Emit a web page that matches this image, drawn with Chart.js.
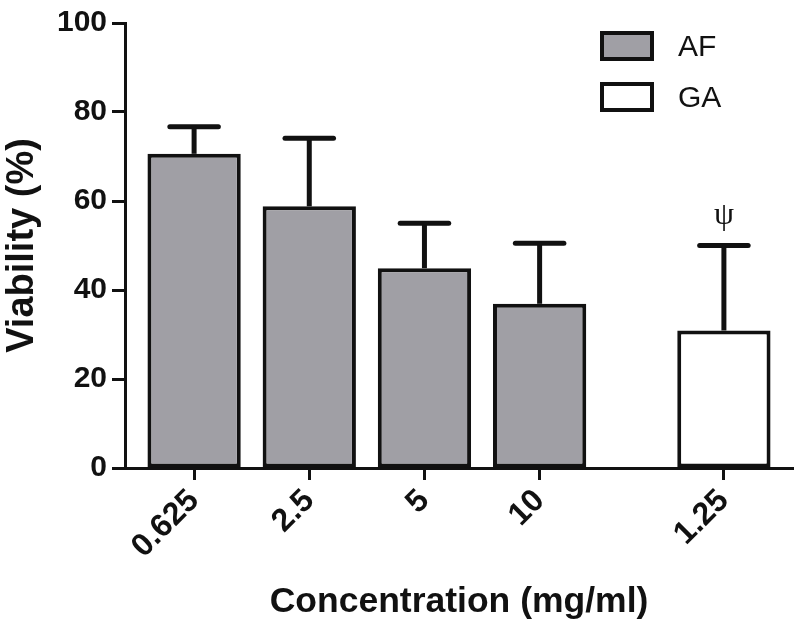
<!DOCTYPE html>
<html>
<head>
<meta charset="utf-8">
<script src="https://cdn.jsdelivr.net/npm/chart.js@4/dist/chart.umd.min.js"></script>
<style>
  html, body { margin: 0; padding: 0; background: #ffffff; }
  #wrap { width: 800px; height: 631px; position: relative; }
</style>
</head>
<body>
<div id="wrap"><canvas id="c" width="800" height="631"></canvas></div>
<script>
// ---- data ----
const afLabels = ['0.625', '2.5', '5', '10'];
const afValues = [70.6, 58.8, 44.9, 36.9];
const afErrors = [6.1, 15.3, 10.1, 13.6];

const gaLabels = ['1.25'];
const gaValues = [30.9];
const gaErrors = [19.1];
const gaMarks = ['ψ'];

const yTicks = [0, 20, 40, 60, 80, 100];

// ---- layout helpers (positions of category slots, gap before GA group) ----
const groupGap = 0.6;
const afX = afLabels.map((_, i) => i);
const gaX = gaLabels.map((_, i) => afLabels.length + groupGap + i);
const allX = afX.concat(gaX);
const allLabels = afLabels.concat(gaLabels);

const FONT = "'Liberation Sans', Arial, Helvetica, sans-serif";

const errorBarPlugin = {
  id: 'errorBars',
  afterDatasetsDraw(chart) {
    const ctx = chart.ctx;
    const yScale = chart.scales.y;
    chart.data.datasets.forEach((ds, di) => {
      const meta = chart.getDatasetMeta(di);
      meta.data.forEach((el, i) => {
        const err = ds.errors[i];
        const v = ds.data[i].y;
        const yTop = yScale.getPixelForValue(v + err);
        const capHalf = el.width * 0.26;
        ctx.save();
        ctx.strokeStyle = '#111111';
        ctx.lineWidth = 5;
        ctx.lineCap = 'butt';
        ctx.beginPath();
        ctx.moveTo(el.x, el.y);
        ctx.lineTo(el.x, yTop);
        ctx.stroke();
        ctx.lineCap = 'round';
        ctx.beginPath();
        ctx.moveTo(el.x - capHalf, yTop);
        ctx.lineTo(el.x + capHalf, yTop);
        ctx.stroke();
        if (ds.marks && ds.marks[i]) {
          ctx.fillStyle = '#111111';
          ctx.font = "32px 'Liberation Serif', 'DejaVu Serif', serif";
          ctx.textAlign = 'center';
          ctx.textBaseline = 'alphabetic';
          ctx.fillText(ds.marks[i], el.x, yTop - 22);
        }
        ctx.restore();
      });
    });
  }
};

const legendPlugin = {
  id: 'boxLegend',
  afterDraw(chart) {
    const ctx = chart.ctx;
    const area = chart.chartArea;
    const boxW = 50, boxH = 26, rowH = 51;
    const left = area.right - 191;
    const top = area.top + 10;
    chart.data.datasets.forEach((ds, i) => {
      const y = top + i * rowH;
      ctx.save();
      ctx.fillStyle = ds.backgroundColor;
      ctx.fillRect(left, y, boxW, boxH);
      ctx.strokeStyle = '#111111';
      ctx.lineWidth = 4;
      ctx.strokeRect(left, y, boxW, boxH);
      ctx.fillStyle = '#111111';
      ctx.font = '30px ' + FONT;
      ctx.textAlign = 'left';
      ctx.textBaseline = 'middle';
      ctx.fillText(ds.label, left + 76, y + boxH / 2 + 2);
      ctx.restore();
    });
  }
};

new Chart(document.getElementById('c'), {
  type: 'bar',
  data: {
    datasets: [
      {
        label: 'AF',
        data: afValues.map((v, i) => ({ x: afX[i], y: v })),
        errors: afErrors,
        backgroundColor: '#a09fa5',
        borderColor: '#111111',
        borderWidth: 4,
        borderSkipped: false,
        grouped: false,
        categoryPercentage: 1,
        barPercentage: 0.81
      },
      {
        label: 'GA',
        data: gaValues.map((v, i) => ({ x: gaX[i], y: v })),
        errors: gaErrors,
        marks: gaMarks,
        backgroundColor: '#ffffff',
        borderColor: '#111111',
        borderWidth: 4,
        borderSkipped: false,
        grouped: false,
        categoryPercentage: 1,
        barPercentage: 0.81
      }
    ]
  },
  options: {
    responsive: false,
    animation: false,
    devicePixelRatio: 1,
    layout: { padding: { top: 22, right: 7, bottom: 0, left: 0 } },
    plugins: {
      legend: { display: false },
      tooltip: { enabled: false }
    },
    scales: {
      x: {
        type: 'linear',
        min: -0.6,
        max: 5.2,
        offset: false,
        afterBuildTicks(scale) {
          scale.ticks = allX.map(v => ({ value: v }));
        },
        afterFit(scale) { scale.height = 163; },
        ticks: {
          autoSkip: false,
          minRotation: 45,
          maxRotation: 45,
          padding: 2,
          color: '#111111',
          font: { family: FONT, size: 32, weight: 'bold' },
          callback(value, index) { return allLabels[index]; }
        },
        grid: {
          offset: false,
          drawOnChartArea: false,
          drawTicks: true,
          tickLength: 12,
          tickWidth: 3,
          color: '#111111'
        },
        border: { display: true, color: '#111111', width: 3 },
        title: {
          display: true,
          text: 'Concentration (mg/ml)',
          color: '#111111',
          font: { family: FONT, size: 35.5, weight: 'bold' },
          padding: { top: 0, bottom: 7 }
        }
      },
      y: {
        min: 0,
        max: 100,
        afterBuildTicks(scale) {
          scale.ticks = yTicks.map(v => ({ value: v }));
        },
        afterFit(scale) { scale.width = 125; },
        ticks: {
          padding: 5,
          color: '#111111',
          font: { family: FONT, size: 30, weight: 'bold' }
        },
        grid: {
          drawOnChartArea: false,
          drawTicks: true,
          tickLength: 13,
          tickWidth: 3,
          color: '#111111'
        },
        border: { display: true, color: '#111111', width: 3 },
        title: {
          display: true,
          text: 'Viability (%)',
          color: '#111111',
          font: { family: FONT, size: 38, weight: 'bold' },
          padding: { top: 0, bottom: 0 }
        }
      }
    }
  },
  plugins: [errorBarPlugin, legendPlugin]
});
</script>
</body>
</html>
